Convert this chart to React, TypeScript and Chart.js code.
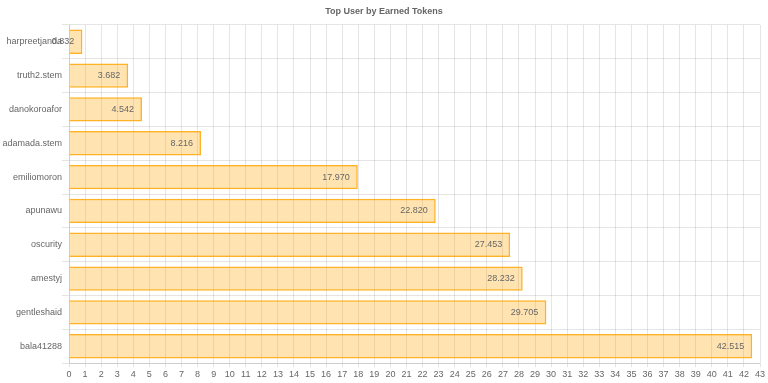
import React, { useEffect, useRef } from "react";
import { Chart, registerables } from "chart.js";

Chart.register(...registerables);

const users = [
  "harpreetjanda",
  "truth2.stem",
  "danokoroafor",
  "adamada.stem",
  "emiliomoron",
  "apunawu",
  "oscurity",
  "amestyj",
  "gentleshaid",
  "bala41288",
];
const tokens = [0.832, 3.682, 4.542, 8.216, 17.97, 22.82, 27.453, 28.232, 29.705, 42.515];
const chartTitle = "Top User by Earned Tokens";

const FONT = "'Liberation Sans', Arial, Helvetica, sans-serif";

const valueLabels = {
  id: "valueLabels",
  afterDatasetsDraw(chart: any) {
    const ctx = chart.ctx;
    const meta = chart.getDatasetMeta(0);
    ctx.save();
    ctx.font = `9px ${FONT}`;
    ctx.fillStyle = "#666";
    ctx.textAlign = "right";
    ctx.textBaseline = "middle";
    meta.data.forEach((bar: any, i: number) => {
      const v = tokens[i];
      ctx.fillText(v.toFixed(3), bar.x - 8, bar.y);
    });
    ctx.restore();
  },
};

export default function App() {
  const ref = useRef<HTMLCanvasElement>(null);
  useEffect(() => {
    document.body.style.margin = "0";
    const chart = new Chart(ref.current!, {
      type: "bar",
      data: {
        labels: users,
        datasets: [
          {
            data: tokens,
            backgroundColor: "rgba(255,165,0,0.3)",
            borderColor: "rgba(255,165,0,0.85)",
            borderWidth: 1.5,
            barPercentage: 0.9,
            categoryPercentage: 0.8,
          },
        ],
      },
      options: {
        indexAxis: "y",
        responsive: false,
        animation: false,
        layout: { padding: { left: 0, right: 0, top: 0, bottom: 1 } },
        plugins: {
          legend: { display: false },
          tooltip: { enabled: false },
          title: {
            display: true,
            text: chartTitle,
            color: "#666",
            font: { family: FONT, size: 9, weight: "bold" },
            padding: { top: 6, bottom: 8 },
          },
        },
        scales: {
          x: {
            min: 0,
            max: 43,
            afterFit: (scale: any) => {
              scale.paddingRight = 8;
            },
            ticks: {
              stepSize: 1,
              color: "#666",
              font: { family: FONT, size: 9 },
              maxRotation: 0,
              autoSkip: false,
              padding: 2,
            },
            grid: { color: "rgba(0,0,0,0.1)", tickLength: 4 },
            border: { color: "rgba(0,0,0,0.1)" },
          },
          y: {
            afterFit: (scale: any) => {
              scale.width = 69;
            },
            ticks: {
              color: "#666",
              font: { family: FONT, size: 9 },
              padding: 0,
            },
            grid: { color: "rgba(0,0,0,0.1)", offset: true, tickLength: 7 },
            border: { color: "rgba(0,0,0,0.1)" },
          },
        },
      },
      plugins: [valueLabels],
    });
    return () => chart.destroy();
  }, []);
  return <canvas ref={ref} width={768} height={383} style={{ display: "block" }} />;
}
